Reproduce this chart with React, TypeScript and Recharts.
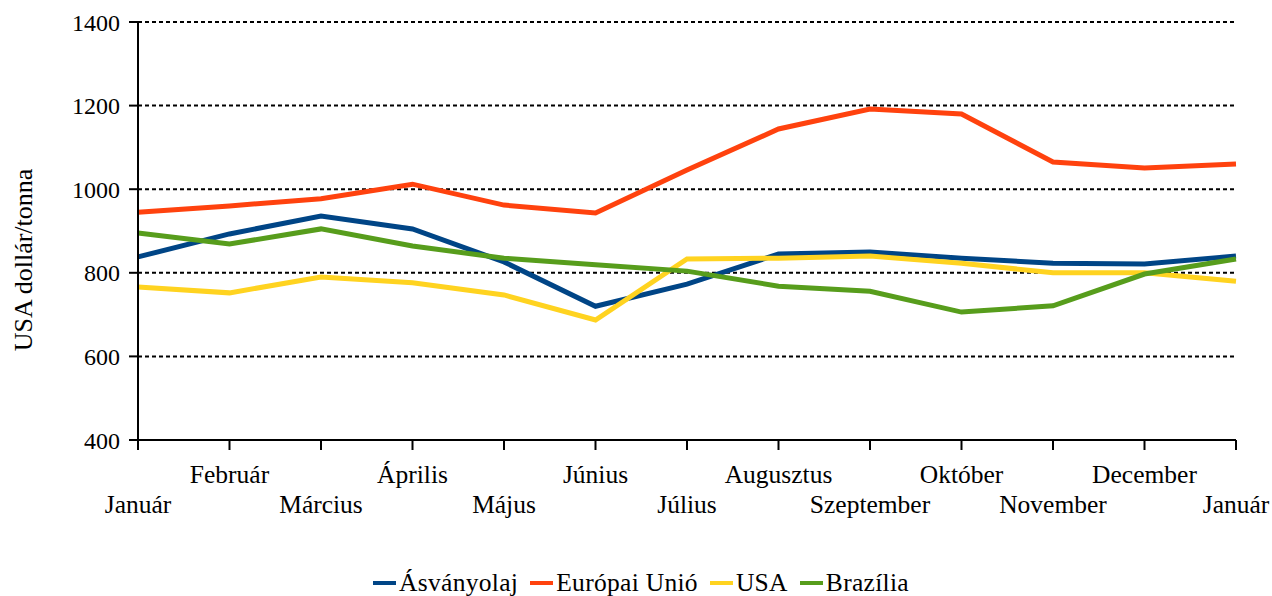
import { LineChart, Line, XAxis, YAxis, CartesianGrid, Legend } from "recharts";

const months = [
    "Január", "Február", "Március", "Április", "Május", "Június", "Július",
    "Augusztus", "Szeptember", "Október", "November", "December", "Január",
];

const asvanyolaj = [838, 893, 936, 905, 826, 720, 773, 845, 850, 835, 823, 821, 840];
const europaiUnio = [945, 960, 977, 1012, 962, 943, 1046, 1144, 1192, 1180, 1065, 1051, 1060];
const usa = [766, 752, 790, 776, 747, 687, 833, 835, 840, 823, 800, 800, 780];
const brazilia = [895, 869, 905, 864, 835, 819, 804, 768, 756, 706, 721, 797, 833];

const yTicks = [400, 600, 800, 1000, 1200, 1400];

const series = [
    { key: "asvanyolaj", name: "Ásványolaj", color: "#004586" },
    { key: "eu", name: "Európai Unió", color: "#ff420e" },
    { key: "usa", name: "USA", color: "#ffd320" },
    { key: "brazilia", name: "Brazília", color: "#579d1c" },
];

const data = months.map((m, i) => ({
    month: m,
    asvanyolaj: asvanyolaj[i],
    eu: europaiUnio[i],
    usa: usa[i],
    brazilia: brazilia[i],
}));

const font = "'Liberation Serif', 'Times New Roman', serif";

function MonthTick(props: any) {
    const { x, y, payload, index } = props;
    const i = index ?? payload.index;
    const dy = i % 2 === 0 ? 63 : 33;
    return (
        <text x={x} y={y + dy} textAnchor="middle" fontFamily={font} fontSize={25.5} fill="#000">
            {payload.value}
        </text>
    );
}

function YLabel() {
    return (
        <text
            x={23}
            y={260}
            transform="rotate(-90, 23, 260)"
            textAnchor="middle"
            dominantBaseline="central"
            fontFamily={font}
            fontSize={26}
            fill="#000"
        >
            USA dollár/tonna
        </text>
    );
}

function LegendRow() {
    return (
        <div style={{ display: "flex", justifyContent: "center", fontFamily: font, fontSize: 25.5, letterSpacing: 0.3, color: "#000", lineHeight: "28px" }}>
            {series.map((s, i) => (
                <div key={s.key} style={{ display: "flex", alignItems: "center", marginLeft: i === 0 ? 0 : 12 }}>
                    <span style={{ width: 23, height: 4, background: s.color, display: "inline-block", marginRight: 3 }} />
                    <span>{s.name}</span>
                </div>
            ))}
        </div>
    );
}

export default function App() {
    return (
        <div style={{ position: "absolute", left: 0, top: 0, width: 1272, height: 596, background: "#fff" }}>
            <LineChart width={1272} height={596} data={data} margin={{ top: 22, right: 36, bottom: 0, left: 0 }}>
                <CartesianGrid vertical={false} stroke="#000" strokeWidth={2} strokeDasharray="4 3" />
                <XAxis
                    dataKey="month"
                    interval={0}
                    height={128}
                    tick={<MonthTick />}
                    tickSize={10}
                    tickMargin={0}
                    axisLine={{ stroke: "#000", strokeWidth: 2 }}
                    tickLine={{ stroke: "#000", strokeWidth: 2 }}
                />
                <YAxis
                    domain={[400, 1400]}
                    ticks={yTicks}
                    width={138}
                    tickSize={9}
                    tickMargin={9}
                    axisLine={{ stroke: "#000", strokeWidth: 2 }}
                    tickLine={{ stroke: "#000", strokeWidth: 2 }}
                    tick={{ fontFamily: font, fontSize: 24, fill: "#000" }}
                    label={<YLabel />}
                />
                <Legend
                    verticalAlign="bottom"
                    height={28}
                    wrapperStyle={{ bottom: -1, left: 5, width: 1272 }}
                    content={<LegendRow />}
                />
                {series.map((s) => (
                    <Line
                        key={s.key}
                        dataKey={s.key}
                        name={s.name}
                        stroke={s.color}
                        strokeWidth={5}
                        dot={false}
                        activeDot={false}
                        type="linear"
                        isAnimationActive={false}
                    />
                ))}
            </LineChart>
        </div>
    );
}
